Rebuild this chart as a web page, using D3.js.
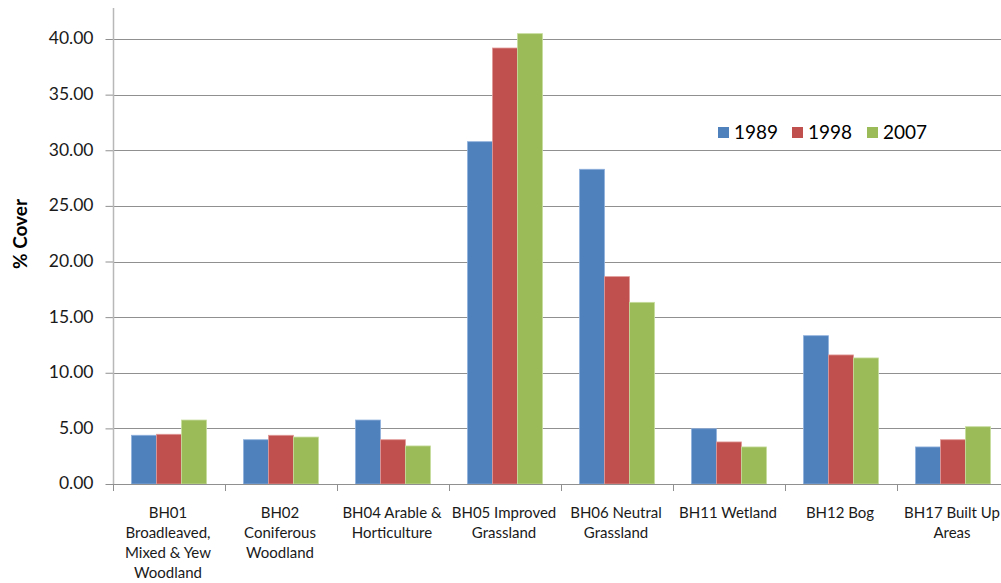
<!DOCTYPE html>
<html><head><meta charset="utf-8">
<script src="https://cdn.jsdelivr.net/npm/d3@7"></script>
<style>body{margin:0;background:#fff}svg{display:block}text{font-family:Lato,"Open Sans",sans-serif}</style>
</head><body>
<svg id="c" width="1001" height="583"></svg>
<script>
const categories = [
  ["BH01","Broadleaved,","Mixed & Yew","Woodland"],
  ["BH02","Coniferous","Woodland"],
  ["BH04 Arable &","Horticulture"],
  ["BH05 Improved","Grassland"],
  ["BH06 Neutral","Grassland"],
  ["BH11 Wetland"],
  ["BH12 Bog"],
  ["BH17 Built Up","Areas"]
];
const seriesNames = ["1989","1998","2007"];
const v1989 = [4.38, 3.98, 5.75, 30.77, 28.29, 4.97, 13.33, 3.33];
const v1998 = [4.47, 4.38, 3.98, 39.19, 18.64, 3.78, 11.60, 3.98];
const v2007 = [5.75, 4.22, 3.42, 40.48, 16.33, 3.33, 11.33, 5.15];
const yTicks = [0,5,10,15,20,25,30,35,40];
const colors = ["#4F81BD","#C0504D","#9BBB59"];
const edge = ["#8fb0dc","#e09a98","#c6dc9c"];

(function(){
const series = [v1989, v1998, v2007];
const svg = d3.select("#c");
const pl = 113, pr = 1009, pt = 8, pb = 484;
const x = d3.scaleBand().domain(d3.range(categories.length)).range([pl, pr]).paddingInner(0).paddingOuter(0);
const x1 = d3.scaleBand().domain(d3.range(3)).range([0, x.bandwidth()]).paddingInner(0).paddingOuter(0.74);
const y = d3.scaleLinear().domain([0,40]).range([pb, 39]);

svg.append("g").selectAll("line").data(yTicks.slice(1)).join("line")
  .attr("x1", pl).attr("x2", pr).attr("y1", d=>Math.round(y(d))+0.5).attr("y2", d=>Math.round(y(d))+0.5)
  .attr("stroke", "#909090").attr("stroke-width", 1);

const g = svg.append("g");
series.forEach((s, si) => {
  g.selectAll(null).data(s).join("rect")
    .attr("x", (d,i)=>x(i)+x1(si))
    .attr("y", d=>y(d))
    .attr("width", x1.bandwidth())
    .attr("height", d=>pb - y(d))
    .attr("fill", colors[si])
    .attr("stroke", edge[si]).attr("stroke-width", 0.8);
});

const yAxis = d3.axisLeft(y).tickValues(yTicks).tickFormat(d3.format(".2f")).tickSize(8).tickSizeOuter(0);
const ya = svg.append("g").attr("transform", `translate(${pl+0.5},0)`).call(yAxis);
ya.select(".domain").remove();
ya.append("line").attr("x1",0).attr("x2",0).attr("y1",pt).attr("y2",pb).attr("stroke","#b8b8b8").attr("stroke-width",1.5);
ya.selectAll(".tick line").attr("stroke","#909090");
ya.selectAll(".tick text").attr("x",-20).attr("dy","0.28em").attr("fill","#1a1a1a").style("font-size","17.5px").style("font-family","Lato,sans-serif");

svg.append("line").attr("x1",pl).attr("x2",pr).attr("y1",pb+0.5).attr("y2",pb+0.5).attr("stroke","#909090");
svg.append("g").selectAll("line").data(d3.range(categories.length+1)).join("line")
  .attr("x1", i=>Math.round(pl + i*x.bandwidth())+0.5).attr("x2", i=>Math.round(pl + i*x.bandwidth())+0.5)
  .attr("y1", pb).attr("y2", pb+7).attr("stroke","#909090");

const xl = svg.append("g");
categories.forEach((lines, i) => {
  const cx = x(i)+x.bandwidth()/2 - 1;
  const t = xl.append("text").attr("text-anchor","middle").attr("fill","#1a1a1a").style("font-size","15px")
    .attr("x", cx).attr("y", 518);
  lines.forEach((ln, k) => t.append("tspan").attr("x", cx).attr("dy", k===0?0:20).text(ln));
});

svg.append("text").attr("transform","translate(27,234) rotate(-90)").attr("text-anchor","middle")
  .style("font-size","19px").style("font-weight","bold").attr("fill","#000").text("% Cover");

const lg = svg.append("g");
const lx = [718, 792, 867];
seriesNames.forEach((n, i) => {
  lg.append("rect").attr("x", lx[i]).attr("y", 127).attr("width", 11).attr("height", 11).attr("fill", colors[i]);
  lg.append("text").attr("x", lx[i]+16).attr("y", 139).style("font-size","19px").attr("fill","#000").text(n);
});
})();
</script>
</body></html>
